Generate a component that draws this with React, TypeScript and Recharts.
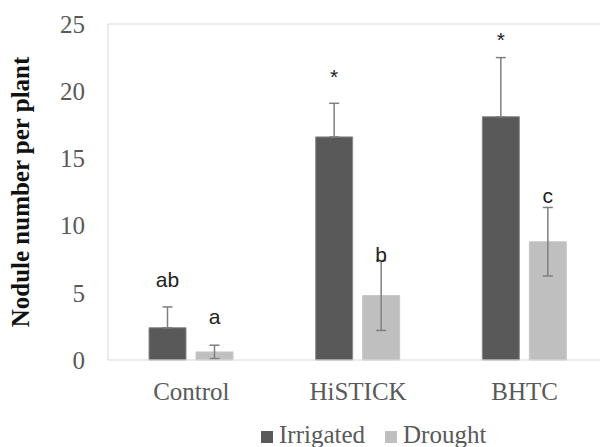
import React from 'react';
import { BarChart, Bar, XAxis, YAxis, ErrorBar, LabelList, Legend, ReferenceLine } from 'recharts';

const treatments = ['Control', 'HiSTICK', 'BHTC'];
const seriesNames = ['Irrigated', 'Drought'];
const irrigated = [2.4, 16.6, 18.1];
const irrigatedErr = [1.55, 2.5, 4.4];
const drought = [0.6, 4.8, 8.8];
const droughtErr = [0.5, 2.6, 2.55];
const irrigatedLetters = ['ab', '*', '*'];
const droughtLetters = ['a', 'b', 'c'];
// baseline of each letter, in y-axis units
const irrigatedLetterAt = [5.4, 20.5, 23.3];
const droughtLetterAt = [2.7, 7.3, 11.7];
const yTicks = [0, 5, 10, 15, 20, 25];

const data = treatments.map((name, i) => ({
  name,
  irrigated: irrigated[i],
  irrigatedErr: [0, irrigatedErr[i]],
  drought: drought[i],
  droughtErr: droughtErr[i],
}));

const SERIF = '"Liberation Serif", "Times New Roman", serif';
const GREY = '#595959';

const noteLabel = (letters: string[], at: number[], values: number[]) => (props: any) => {
  const vb = props.viewBox || props;
  const i = treatments.indexOf(props.value);
  if (i < 0 || !vb) return null;
  const top = Math.min(vb.y, vb.y + vb.height);
  const h = Math.abs(vb.height);
  const bottom = top + h;
  const perUnit = h / values[i];
  const y = bottom - at[i] * perUnit;
  return (
    <text
      x={vb.x + vb.width / 2}
      y={y}
      textAnchor="middle"
      fontFamily='"Liberation Sans", Arial, sans-serif'
      fontSize={21}
      fill="#222"
    >
      {letters[i]}
    </text>
  );
};

const renderLegend = (props: any) => {
  const items = [...(props.payload || [])].sort(
    (a: any, b: any) => seriesNames.indexOf(a.value) - seriesNames.indexOf(b.value)
  );
  return (
    <div
      style={{
        display: 'flex',
        alignItems: 'baseline',
        fontFamily: SERIF,
        fontSize: 25,
        lineHeight: '25px',
        color: GREY,
        whiteSpace: 'nowrap',
      }}
    >
      {items.map((p: any, i: number) => (
        <span key={i} style={{ marginRight: i === 0 ? 20 : 0 }}>
          <span style={{ display: 'inline-block', width: 12, height: 12, background: p.color, marginRight: 6 }} />
          {p.value}
        </span>
      ))}
    </div>
  );
};

export default function App() {
  return (
    <div style={{ position: 'absolute', left: 0, top: 0, width: 600, height: 447, overflow: 'hidden', background: '#fff' }}>
      <BarChart
        width={620}
        height={447}
        data={data}
        margin={{ top: 24, right: 12, bottom: 0, left: 0 }}
        barSize={37}
        barGap={10}
      >
        <XAxis
          dataKey="name"
          height={87}
          axisLine={{ stroke: '#d9d9d9' }}
          tickLine={false}
          tickSize={0}
          tickMargin={22}
          tick={{ fill: GREY, fontSize: 25, fontFamily: SERIF }}
        />
        <YAxis
          width={108}
          domain={[0, 25]}
          ticks={yTicks}
          axisLine={{ stroke: '#d9d9d9' }}
          tickLine={false}
          tickSize={0}
          tickMargin={23}
          tick={{ fill: GREY, fontSize: 25, fontFamily: SERIF }}
          label={{
            content: () => (
              <text
                x={0}
                y={0}
                transform="translate(29,192) rotate(-90)"
                textAnchor="middle"
                fontFamily={SERIF}
                fontWeight="bold"
                fontSize={25}
                fill="#111"
              >
                Nodule number per plant
              </text>
            ),
          }}
        />
        <ReferenceLine y={25} stroke="#d9d9d9" />
        <Legend
          layout="horizontal"
          verticalAlign="middle"
          align="center"
          wrapperStyle={{ left: 261, top: 422, width: 'auto' }}
          content={renderLegend}
        />
        <Bar dataKey="irrigated" name="Irrigated" fill="#595959" stroke="#8a8a8a" strokeWidth={1} isAnimationActive={false}>
          <ErrorBar dataKey="irrigatedErr" width={5} stroke="#7f7f7f" strokeWidth={1.5} direction="y" isAnimationActive={false} />
          <LabelList dataKey={(d: any) => d.name} content={noteLabel(irrigatedLetters, irrigatedLetterAt, irrigated)} />
        </Bar>
        <Bar dataKey="drought" name="Drought" fill="#bfbfbf" stroke="#c8c8c8" strokeWidth={1} isAnimationActive={false}>
          <ErrorBar dataKey="droughtErr" width={5} stroke="#7f7f7f" strokeWidth={1.5} direction="y" isAnimationActive={false} />
          <LabelList dataKey={(d: any) => d.name} content={noteLabel(droughtLetters, droughtLetterAt, drought)} />
        </Bar>
      </BarChart>
    </div>
  );
}
